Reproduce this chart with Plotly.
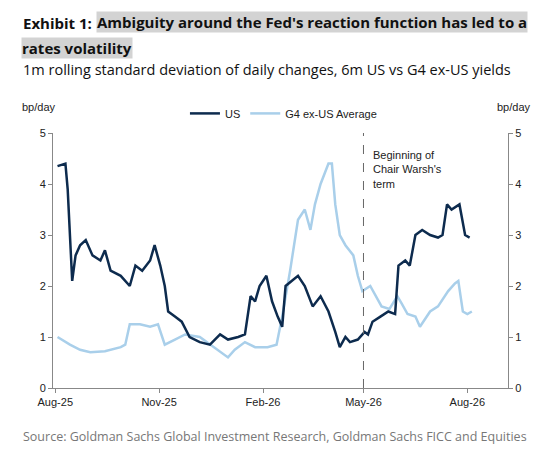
import pandas as pd
import plotly.graph_objects as go

start = pd.Timestamp("2025-08-01")
us_days = [2,9,11,15,18,22,27,33,40,44,49,58,66,71,77,84,88,93,97,100,106,112,119,128,137,146,153,162,168,173,177,181,187,192,197,201,204,210,215,221,228,235,242,248,252,257,261,268,274,277,281,288,295,301,304,310,314,319,325,332,339,343,347,351,358,363,367]
us_vals = [4.35,4.4,3.9,2.1,2.6,2.8,2.9,2.6,2.5,2.7,2.3,2.2,2.0,2.4,2.3,2.5,2.8,2.4,2.0,1.5,1.4,1.3,1.0,0.9,0.85,1.05,0.95,1.0,1.05,1.8,1.7,2.0,2.2,1.7,1.4,1.2,2.0,2.1,2.2,2.0,1.6,1.8,1.5,1.1,0.8,1.0,0.9,0.95,1.1,1.05,1.3,1.4,1.5,1.45,2.4,2.5,2.4,3.0,3.1,3.0,2.95,3.0,3.6,3.5,3.6,3.0,2.95]
g4_days = [2,13,22,31,44,58,62,66,75,84,91,97,106,115,128,137,146,153,159,168,177,188,196,201,208,215,221,226,230,235,242,245,248,252,257,264,268,272,279,283,289,296,303,307,312,319,323,332,339,348,354,357,361,365,369]
g4_vals = [1.0,0.85,0.75,0.7,0.72,0.8,0.85,1.25,1.25,1.2,1.25,0.85,0.95,1.05,1.0,0.85,0.7,0.6,0.75,0.9,0.8,0.8,0.85,1.4,2.3,3.3,3.5,3.1,3.6,4.0,4.4,4.4,3.6,3.0,2.8,2.6,2.2,1.9,2.0,1.85,1.6,1.55,1.8,1.65,1.45,1.4,1.2,1.5,1.6,1.9,2.05,2.1,1.5,1.45,1.5]
tick_dates = ["2025-08-01","2025-11-01","2026-02-01","2026-05-01","2026-08-01"]
tick_labels = ["Aug-25","Nov-25","Feb-26","May-26","Aug-26"]
event_date = "2026-05-01"

us_x = [start + pd.Timedelta(days=d) for d in us_days]
g4_x = [start + pd.Timedelta(days=d) for d in g4_days]
F = "Liberation Sans, Arial, sans-serif"
T = "Open Sans, sans-serif"

fig = go.Figure()
fig.add_trace(go.Scatter(x=g4_x, y=g4_vals, mode="lines", name="G4 ex-US Average",
                         line=dict(color="#a9cfea", width=2.5)))
fig.add_trace(go.Scatter(x=us_x, y=us_vals, mode="lines", name="US",
                         line=dict(color="#0d2b4e", width=2.5)))
fig.add_trace(go.Scatter(x=us_x, y=us_vals, mode="lines", yaxis="y2", showlegend=False,
                         hoverinfo="skip", line=dict(width=0), opacity=0))
fig.add_vline(x=event_date, line=dict(color="#666", width=1, dash="dash"))
fig.add_annotation(x=event_date, y=4.72, xref="x", yref="y", text="Beginning of<br>Chair Warsh's<br>term",
                   showarrow=False, xanchor="left", yanchor="top", xshift=8, align="left",
                   font=dict(size=11, color="#222", family=F))

fig.update_layout(
    width=539, height=458, paper_bgcolor="white", plot_bgcolor="white",
    margin=dict(l=45, r=39, t=125, b=78),
    font=dict(family=F, size=11, color="#222"),
    legend=dict(orientation="h", x=0.29, y=1.02, xanchor="left", yanchor="bottom",
                traceorder="reversed", font=dict(size=11), bgcolor="rgba(0,0,0,0)"),
    xaxis=dict(range=["2025-07-30", "2026-09-06"], tickvals=tick_dates, ticktext=tick_labels,
               showgrid=False, showline=True, linecolor="#888", ticks="outside", ticklen=4,
               tickcolor="#888"),
    yaxis=dict(range=[0, 5], dtick=1, showgrid=False, showline=True, linecolor="#888",
               ticks="outside", ticklen=4, tickcolor="#888"),
    yaxis2=dict(range=[0, 5], dtick=1, overlaying="y", side="right", showgrid=False,
                showline=True, linecolor="#888", ticks="outside", ticklen=4, tickcolor="#888"),
    showlegend=True,
)
fig.add_annotation(x=0, y=1.07, xref="paper", yref="paper", text="bp/day", showarrow=False,
                   xanchor="center", yanchor="bottom", xshift=-14, font=dict(size=11))
fig.add_annotation(x=1, y=1.07, xref="paper", yref="paper", text="bp/day", showarrow=False,
                   xanchor="center", yanchor="bottom", xshift=6, font=dict(size=11))
fig.add_annotation(x=-0.07, y=1.48, xref="paper", yref="paper", text="<b>Exhibit 1: </b>",
                   showarrow=False, xanchor="left", yanchor="top", font=dict(size=15, color="#111", family=T))
fig.add_annotation(x=0.095, y=1.48, xref="paper", yref="paper",
                   text="<b>Ambiguity around the Fed's reaction function has led to a</b>",
                   showarrow=False, xanchor="left", yanchor="top", bgcolor="#d3d3d3", borderpad=0,
                   font=dict(size=15, color="#111", family=T))
fig.add_annotation(x=-0.07, y=1.375, xref="paper", yref="paper", text="<b>rates volatility</b>",
                   showarrow=False, xanchor="left", yanchor="top", bgcolor="#d3d3d3", borderpad=0,
                   font=dict(size=15, color="#111", family=T))
fig.add_annotation(x=-0.07, y=1.295, xref="paper", yref="paper",
                   text="1m rolling standard deviation of daily changes, 6m US vs G4 ex-US yields",
                   showarrow=False, xanchor="left", yanchor="top", font=dict(size=14.5, color="#111", family=T))
fig.add_annotation(x=-0.07, y=-0.15, xref="paper", yref="paper",
                   text="Source: Goldman Sachs Global Investment Research, Goldman Sachs FICC and Equities",
                   showarrow=False, xanchor="left", yanchor="top", font=dict(size=12.5, color="#777", family=T))
fig.write_html("out.html")
